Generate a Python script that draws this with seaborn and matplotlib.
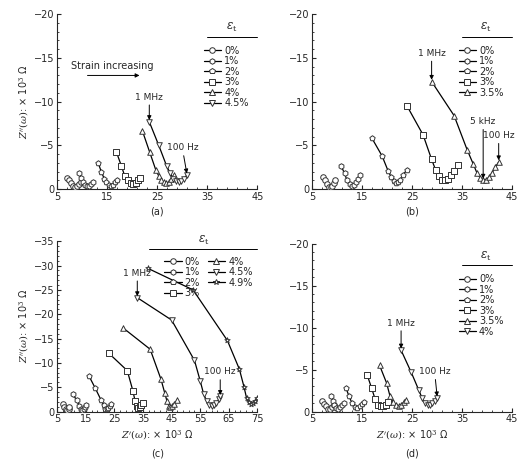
import numpy as np
import seaborn as sns
import matplotlib.pyplot as plt
from matplotlib.lines import Line2D

sns.set_style("ticks")
plt.rcParams['font.family'] = ['DejaVu Sans']
plt.rcParams['font.size'] = 7
plt.rcParams['mathtext.fontset'] = 'dejavuserif'

# (Z', -Z'') in 10^3 ohm, per panel, per strain level
panel_a = {
    "0%": [(7, 1.3), (7.4, 1.0), (7.8, 0.7), (8.2, 0.4), (8.6, 0.3), (9.0, 0.4), (9.4, 0.6), (9.7, 0.8)],
    "1%": [(9.3, 1.9), (9.7, 1.3), (10.1, 0.8), (10.5, 0.5), (10.9, 0.4), (11.3, 0.4), (11.7, 0.6), (12.1, 0.8)],
    "2%": [(13.2, 3.0), (13.8, 2.0), (14.4, 1.2), (14.8, 0.8), (15.3, 0.5), (15.7, 0.4), (16.1, 0.5), (16.5, 0.8), (16.9, 1.1)],
    "3%": [(16.8, 4.3), (17.8, 2.7), (18.5, 1.5), (19.1, 1.0), (19.7, 0.7), (20.2, 0.6), (20.7, 0.7), (21.1, 1.0), (21.5, 1.3)],
    "4%": [(22, 6.7), (23.5, 4.2), (24.7, 2.2), (25.3, 1.5), (25.8, 1.0), (26.3, 0.8), (26.8, 0.7), (27.3, 0.8), (27.8, 1.2), (28.3, 1.6)],
    "4.5%": [(23.4, 7.7), (25.3, 5.0), (26.9, 2.6), (27.6, 1.8), (28.2, 1.2), (28.8, 0.9), (29.3, 0.8), (29.8, 0.9), (30.3, 1.2), (30.9, 1.6)],
}
panel_b = {
    "0%": [(7.2, 1.4), (7.6, 1.0), (8.0, 0.6), (8.4, 0.3), (8.7, 0.2), (9.0, 0.4), (9.3, 0.7), (9.6, 1.1)],
    "1%": [(10.8, 2.7), (11.5, 1.8), (12.0, 1.0), (12.5, 0.6), (12.9, 0.4), (13.3, 0.5), (13.7, 0.8), (14.1, 1.2), (14.5, 1.6)],
    "2%": [(17, 5.8), (19, 3.8), (20.2, 2.1), (20.8, 1.4), (21.3, 0.9), (21.8, 0.7), (22.2, 0.8), (22.6, 1.1), (23.2, 1.6), (23.9, 2.2)],
    "3%": [(24, 9.5), (27.2, 6.2), (28.9, 3.4), (29.7, 2.2), (30.4, 1.5), (31.0, 1.1), (31.6, 1.0), (32.2, 1.2), (32.8, 1.6), (33.4, 2.1), (34.1, 2.8)],
    "3.5%": [(28.9, 12.3), (33.4, 8.4), (36, 4.5), (37.2, 2.9), (38, 1.8), (38.6, 1.3), (39.2, 1.1), (39.8, 1.1), (40.4, 1.4), (41, 1.9), (41.6, 2.5), (42.3, 3.1)],
}
panel_c = {
    "0%": [(7, 1.6), (7.5, 1.0), (8, 0.5), (8.5, 0.3), (9, 0.5), (9.3, 0.9)],
    "1%": [(10.5, 3.6), (11.8, 2.3), (12.7, 1.2), (13.3, 0.6), (13.8, 0.4), (14.3, 0.6), (14.8, 1.0), (15.2, 1.3)],
    "2%": [(16.2, 7.2), (18.3, 4.8), (20.3, 2.4), (21.2, 1.3), (21.8, 0.6), (22.3, 0.5), (22.8, 0.8), (23.3, 1.2), (23.8, 1.6)],
    "3%": [(23, 12), (29.5, 8.4), (31.5, 4.2), (32.2, 2.2), (32.8, 1.2), (33.3, 0.8), (33.8, 0.9), (34.3, 1.3), (35, 1.8)],
    "4%": [(28, 17.2), (37.5, 12.8), (41.3, 6.6), (42.6, 3.8), (43.4, 2.1), (44, 1.2), (44.6, 1.0), (45.2, 1.2), (46, 1.6), (47, 2.4)],
    "4.5%": [(33, 23.4), (45, 18.8), (53, 10.5), (55, 6.3), (56.2, 3.6), (57.3, 2.1), (58.2, 1.4), (59, 1.1), (59.8, 1.3), (60.6, 1.8), (61.5, 2.5), (62, 3.1)],
    "4.9%": [(36.8, 29.4), (52.5, 25), (64.5, 14.6), (68.7, 8.7), (70.3, 5.1), (71.2, 2.8), (72, 1.9), (72.8, 1.6), (73.5, 1.8), (74.2, 2.2), (74.8, 2.7)],
}
panel_d = {
    "0%": [(7, 1.3), (7.4, 0.9), (7.8, 0.6), (8.2, 0.3), (8.6, 0.3), (9, 0.5), (9.3, 0.8)],
    "1%": [(8.8, 1.8), (9.1, 1.2), (9.4, 0.8), (9.8, 0.4), (10.1, 0.3), (10.5, 0.5), (10.9, 0.8), (11.3, 1.0)],
    "2%": [(11.8, 2.8), (12.4, 1.8), (13, 1.0), (13.5, 0.5), (14, 0.4), (14.5, 0.6), (15, 0.9), (15.3, 1.1)],
    "3%": [(16, 4.4), (16.9, 2.8), (17.6, 1.5), (18.2, 0.8), (18.7, 0.6), (19.2, 0.6), (19.7, 0.8), (20.1, 1.1)],
    "3.5%": [(18.5, 5.5), (19.9, 3.4), (20.6, 1.8), (21.2, 1.1), (21.8, 0.8), (22.3, 0.7), (22.8, 0.8), (23.3, 1.1), (23.7, 1.4)],
    "4%": [(22.8, 7.3), (24.8, 4.7), (26.3, 2.6), (27, 1.6), (27.6, 1.0), (28.1, 0.8), (28.6, 0.8), (29, 1.0), (29.5, 1.2), (30, 1.6)],
}

markers_by_order = ['o', 'h', 'p', 's', '^', 'v', '*']
# (text, arrow tip x, tip y, text x, text y)
notes = {
    "a": [("1 MHz", 23.4, -7.9, 23.4, -10), ("100 Hz", 30.9, -1.8, 30.0, -4.2)],
    "b": [("1 MHz", 28.9, -12.5, 28.9, -15), ("5 kHz", 39.2, -1.2, 39.2, -7.2), ("100 Hz", 42.3, -3.3, 42.3, -5.6)],
    "c": [("1 MHz", 33, -23.7, 33, -27.5), ("100 Hz", 62, -3.4, 62, -7.2)],
    "d": [("1 MHz", 22.8, -7.5, 22.8, -10), ("100 Hz", 30, -1.8, 29.5, -4.2)],
}

fig = plt.figure(figsize=(5.2, 4.73), dpi=100)
boxes = {"a": [0.11, 0.60, 0.385, 0.37], "b": [0.60, 0.60, 0.385, 0.37],
         "c": [0.11, 0.13, 0.385, 0.36], "d": [0.60, 0.13, 0.385, 0.355]}
panels = {"a": panel_a, "b": panel_b, "c": panel_c, "d": panel_d}

for key, data in panels.items():
    ax = fig.add_axes(boxes[key])
    handles = []
    for i, (label, pts) in enumerate(data.items()):
        m = markers_by_order[i]
        x = [p[0] for p in pts]
        y = [-p[1] for p in pts]
        sns.lineplot(x=x, y=y, ax=ax, color='black', linewidth=0.9, linestyle='-', sort=False, estimator=None)
        sns.scatterplot(x=x, y=y, ax=ax, marker=m, s=16, color='white', edgecolor='#333333',
                        linewidth=0.7, zorder=3)
        handles.append(Line2D([], [], color='black', lw=0.9, marker=m, markersize=4,
                              markerfacecolor='white', markeredgecolor='#333333',
                              markeredgewidth=0.7, label=label))
    if key == "c":
        ax.set_xlim(5, 75)
        ax.set_xticks(range(5, 76, 10))
        ax.set_ylim(0, -35)
        ax.set_yticks(range(0, -36, -5))
        ax.legend(handles=handles, ncol=2, frameon=False, loc='upper right',
                  bbox_to_anchor=(1.02, 0.96), handlelength=1.8, labelspacing=0.05,
                  columnspacing=0.8, handletextpad=0.3, fontsize=7)
        ax.plot([0.46, 1.0], [0.955, 0.955], color='black', lw=0.7, transform=ax.transAxes, clip_on=False)
        ax.text(0.73, 0.965, r'$\varepsilon_{\rm t}$', transform=ax.transAxes, ha='center', va='bottom', fontsize=8.5)
    else:
        ax.set_xlim(5, 45)
        ax.set_xticks(range(5, 46, 10))
        ax.set_ylim(0, -20)
        ax.set_yticks(range(0, -21, -5))
        ax.legend(handles=handles, frameon=False, loc='upper right',
                  bbox_to_anchor=(1.0, 0.87), handlelength=1.8, labelspacing=0.05,
                  handletextpad=0.3, fontsize=7)
        ax.plot([0.75, 1.0], [0.87, 0.87], color='black', lw=0.7, transform=ax.transAxes, clip_on=False)
        ax.text(0.87, 0.885, r'$\varepsilon_{\rm t}$', transform=ax.transAxes, ha='center', va='bottom', fontsize=8.5)
    ax.minorticks_on()
    ax.tick_params(which='both', direction='in', labelsize=7, length=3, pad=2)
    ax.tick_params(which='minor', length=1.5)
    sns.despine(ax=ax)
    for t, tx, ty, lx, ly in notes[key]:
        ax.annotate(t, xy=(tx, ty), xytext=(lx, ly), ha='center', va='bottom', fontsize=6.5,
                    arrowprops=dict(arrowstyle='-|>', color='black', lw=0.7, mutation_scale=6,
                                    shrinkA=0, shrinkB=0))
    if key in ("a", "c"):
        ax.set_ylabel(r"$Z''(\omega)$: × 10$^3$ Ω", fontsize=7, labelpad=2)
    if key in ("c", "d"):
        ax.set_xlabel(r"$Z'(\omega)$: × 10$^3$ Ω", fontsize=7, labelpad=3)
        ax.text(0.5, -0.22, f"({key})", transform=ax.transAxes, ha='center', va='top', fontsize=7)
    else:
        ax.text(0.5, -0.1, f"({key})", transform=ax.transAxes, ha='center', va='top', fontsize=7)
    if key == "a":
        ax.annotate("", xy=(22, -13), xytext=(10.5, -13),
                    arrowprops=dict(arrowstyle='-|>', color='black', lw=0.7, mutation_scale=6))
        ax.text(16, -13.5, "Strain increasing", ha='center', va='bottom', fontsize=7)

fig.savefig("out.png", dpi=100)
